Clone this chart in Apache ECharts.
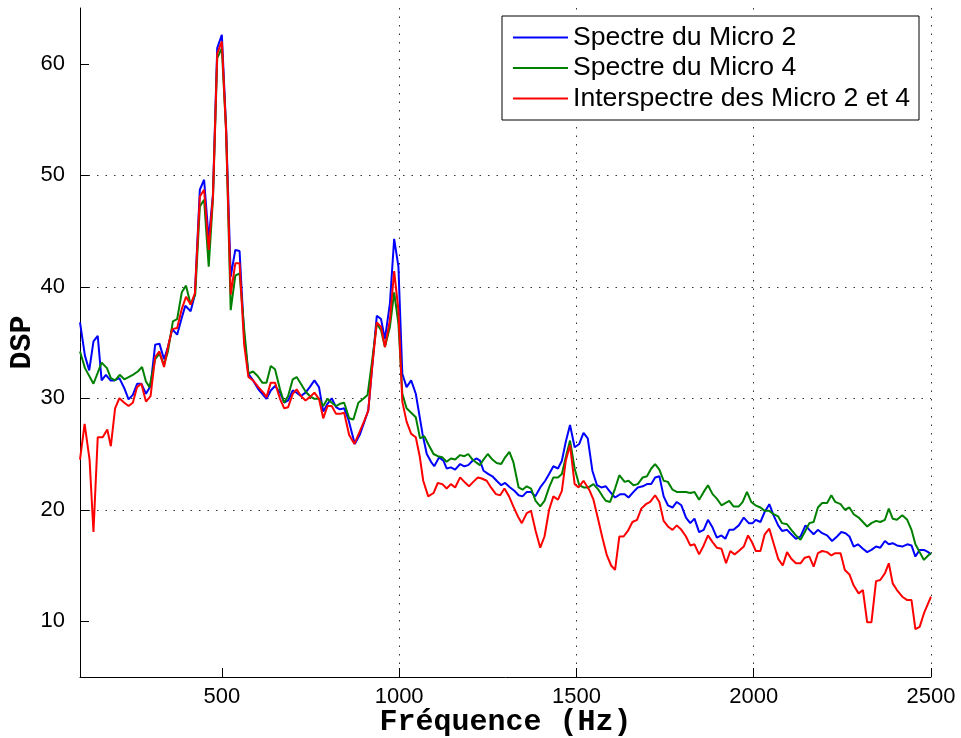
<!DOCTYPE html>
<html>
<head>
<meta charset="utf-8">
<script src="https://cdn.jsdelivr.net/npm/echarts@6/dist/echarts.min.js"></script>
<style>
  html, body { margin: 0; padding: 0; background: #ffffff; }
  #chart { width: 961px; height: 738px; }
</style>
</head>
<body>
<div id="chart"></div>
<script>
// Power spectral density (dB) of microphones 2 and 4 and their cross-spectrum
const seriesNames = ['Spectre du Micro 2', 'Spectre du Micro 4', 'Interspectre des Micro 2 et 4'];

const micro2Freq = [100,114,126,138,150,161,173,186,197,211,225,237,249,261,273,286,299,312,324,337,348,360,374,386,397,412,424,438,450,463,475,487,500,512,525,538,550,563,575,588,603,614,626,638,650,664,676,687,700,711,723,736,748,761,774,786,798,810,822,833,845,857,875,890,902,913,924,937,949,960,974,986,998,1009,1021,1034,1047,1066,1078,1090,1099,1113,1125,1134,1146,1158,1172,1184,1195,1207,1219,1228,1238,1252,1263,1275,1288,1299,1313,1325,1337,1348,1360,1372,1384,1398,1412,1423,1435,1448,1459,1470,1482,1495,1508,1520,1532,1545,1558,1570,1583,1595,1609,1624,1636,1647,1661,1673,1687,1699,1711,1722,1734,1746,1758,1771,1783,1796,1809,1821,1833,1846,1859,1871,1884,1896,1909,1920,1931,1943,1958,1972,1986,1997,2006,2019,2031,2044,2056,2069,2080,2094,2106,2119,2132,2146,2157,2169,2181,2193,2207,2221,2235,2247,2259,2270,2282,2294,2308,2320,2332,2345,2357,2370,2381,2392,2404,2419,2433,2445,2456,2468,2480,2492,2500];
const micro2Dsp = [36.8,33.8,32.5,35.1,35.6,31.6,32.1,31.6,31.6,31.8,30.9,29.9,30.3,31.3,31.3,30.4,31.1,34.8,34.9,33.5,34.6,36.2,35.7,37.1,38.3,37.8,39.3,48.7,49.6,44.2,48.3,61.4,62.6,54.3,40.9,43.3,43.2,35.5,32.2,31.6,30.8,30.4,29.95,30.7,31.1,30.5,29.6,29.8,30.7,30.5,30.2,30.5,31.0,31.6,31.0,28.8,29.5,30.0,29.2,29.0,29.1,28.1,25.9,26.8,27.9,28.9,32.8,37.4,37.1,35.3,38.5,44.3,41.8,32.2,31.0,31.6,30.4,26.8,25.0,24.3,23.9,24.7,24.4,23.7,23.8,23.6,24.1,23.9,24.0,24.4,24.6,24.4,23.5,23.2,23.0,22.6,22.2,22.4,22.0,21.7,21.3,21.2,21.6,21.6,21.2,22.0,22.6,23.2,23.9,23.7,24.4,26.1,27.6,25.6,25.9,26.9,26.4,23.5,22.2,22.0,22.1,21.6,21.1,21.4,21.4,21.1,21.6,22.0,22.1,22.3,22.3,22.9,23.0,21.2,20.4,20.2,20.7,20.4,19.3,18.8,19.2,18.0,18.2,19.1,18.4,17.5,17.7,17.4,18.2,18.2,18.6,19.3,18.8,18.8,19.1,18.9,19.8,20.5,19.5,18.6,18.1,18.2,17.8,17.4,17.6,18.6,18.2,17.8,18.2,17.9,17.7,17.2,17.6,18.0,17.9,17.6,16.7,16.9,16.5,16.2,16.4,16.7,16.6,17.2,16.9,17.0,16.8,16.7,16.9,16.8,15.8,16.4,16.4,16.2,16.0];

const micro4Freq = [100,114,138,161,176,187,199,212,225,249,263,275,286,296,312,324,337,348,362,374,387,399,412,425,438,450,463,475,487,500,512,525,538,550,563,575,588,601,614,626,638,650,664,676,687,700,711,723,736,748,761,774,786,798,810,822,833,845,859,871,885,899,911,924,937,949,960,974,986,998,1009,1021,1034,1047,1059,1071,1082,1097,1109,1122,1134,1146,1158,1172,1184,1195,1207,1219,1228,1238,1250,1263,1275,1288,1299,1311,1322,1337,1348,1360,1372,1385,1398,1410,1423,1435,1448,1459,1470,1482,1495,1508,1520,1534,1548,1562,1576,1583,1595,1609,1621,1636,1647,1661,1673,1687,1699,1711,1722,1734,1746,1758,1771,1783,1798,1809,1821,1833,1846,1859,1871,1884,1896,1909,1920,1931,1943,1958,1969,1981,1993,2005,2019,2031,2044,2056,2069,2080,2094,2106,2119,2132,2144,2157,2169,2181,2193,2207,2219,2230,2245,2257,2270,2282,2296,2308,2320,2332,2345,2357,2370,2381,2392,2404,2419,2433,2445,2456,2468,2480,2492,2500];
const micro4Dsp = [34.2,32.7,31.3,33.2,32.7,31.8,31.6,32.1,31.7,32.1,32.4,32.8,31.5,31.0,33.5,34.0,33.0,34.2,36.9,37.1,39.5,40.1,38.4,39.3,47.2,47.8,41.8,47.9,60.5,61.4,54.0,37.9,41.0,41.2,36.2,32.2,32.4,32.0,31.4,31.4,32.9,32.6,30.8,29.6,30.2,31.7,31.9,31.3,30.6,30.2,29.95,29.95,29.3,29.95,29.6,29.3,29.5,29.6,28.2,28.1,29.6,29.95,30.3,33.4,36.7,36.1,34.6,36.4,39.5,36.7,30.4,29.1,28.7,28.3,26.4,26.6,25.9,25.0,24.8,24.7,24.3,24.6,24.5,24.9,24.8,25.0,24.5,24.2,24.0,24.5,25.0,24.5,24.2,24.1,24.7,25.2,24.3,22.0,21.8,22.1,21.9,20.8,20.3,20.8,22.0,22.9,22.9,23.2,24.7,26.2,23.7,22.2,22.0,22.0,22.3,21.8,21.1,20.8,20.7,21.9,23.1,22.5,22.6,22.2,22.3,22.9,23.0,23.7,24.1,23.6,22.6,22.5,21.8,21.6,21.6,21.6,21.5,21.6,20.9,21.6,22.2,21.4,21.0,20.4,20.6,20.8,20.3,20.3,20.7,21.6,20.7,20.4,20.2,19.9,19.9,19.6,19.4,18.8,18.7,18.2,17.7,17.3,18.0,18.8,18.9,20.2,20.6,20.6,21.3,20.7,20.5,20.0,20.2,19.6,19.3,18.9,18.5,18.8,19.0,18.9,19.1,20.1,19.2,19.1,19.5,19.1,18.2,16.9,16.2,15.5,15.9,16.1];

const crossFreq = [100,113,127,138,150,164,177,187,199,211,225,237,249,261,273,286,299,312,324,337,348,360,374,387,399,412,424,438,450,463,475,487,500,512,525,538,550,563,575,588,603,617,626,638,650,664,676,687,700,711,723,736,748,761,774,786,798,810,822,833,845,859,874,890,902,913,924,937,949,960,974,986,998,1009,1021,1034,1047,1058,1068,1082,1097,1109,1122,1134,1146,1158,1172,1184,1197,1209,1222,1233,1247,1259,1273,1285,1297,1310,1322,1335,1346,1360,1372,1385,1398,1410,1423,1435,1448,1459,1470,1482,1495,1506,1520,1536,1548,1560,1574,1586,1598,1609,1621,1633,1645,1658,1671,1683,1696,1708,1722,1734,1746,1758,1771,1783,1796,1809,1821,1833,1846,1859,1871,1884,1896,1909,1922,1934,1946,1958,1972,1984,1995,2006,2019,2031,2044,2056,2069,2082,2094,2106,2119,2132,2144,2157,2169,2181,2193,2207,2219,2230,2245,2257,2270,2282,2296,2308,2320,2332,2345,2357,2370,2381,2392,2404,2419,2433,2445,2456,2468,2480,2500];
const crossDsp = [24.5,27.7,24.5,18.0,26.5,26.5,27.2,25.7,29.1,30.0,29.6,29.3,29.6,31.0,31.3,29.7,30.2,33.7,34.2,32.8,34.6,36.2,36.3,38.0,39.1,38.4,39.4,48.1,48.7,43.3,48.1,60.9,62.0,54.0,39.3,42.1,42.1,34.8,31.9,31.6,31.0,30.5,30.1,31.4,31.4,29.95,29.1,29.2,30.4,30.8,30.2,29.8,30.1,30.5,29.95,28.2,29.3,29.3,28.6,28.6,28.7,26.7,25.9,27.1,28.0,28.9,32.8,36.8,36.4,34.6,37.0,41.4,37.9,29.7,27.9,26.8,26.5,24.8,22.6,21.2,21.5,22.4,22.3,21.9,22.3,22.0,22.9,22.5,22.1,22.5,22.9,22.8,22.6,22.0,21.4,21.3,21.9,21.2,20.3,19.4,18.8,19.7,19.9,18.1,16.6,17.6,20.0,21.2,20.9,21.7,24.4,25.8,22.3,22.0,22.6,21.8,20.9,19.3,17.4,15.9,15.0,14.6,17.6,17.6,18.1,18.9,19.1,20.1,20.5,20.7,21.3,20.7,19.0,18.5,18.2,18.6,18.2,17.6,16.8,16.9,16.0,16.8,17.7,17.1,16.6,16.5,15.2,16.3,16.0,16.3,16.7,17.7,17.1,16.3,16.3,17.8,18.3,17.0,15.6,15.0,16.2,15.6,15.2,15.2,15.7,15.8,14.9,16.1,16.3,16.2,15.9,16.1,16.1,14.6,14.2,13.2,12.5,12.8,9.9,9.9,13.6,13.7,14.3,15.2,13.4,12.8,12.2,11.9,11.9,9.3,9.5,10.7,12.2];

const xTicks = [500, 1000, 1500, 2000, 2500];
const yTicks = [10, 20, 30, 40, 50, 60];

const pairs = (f, v) => f.map((x, i) => [x, v[i]]);

const chart = echarts.init(document.getElementById('chart'), null, { renderer: 'canvas' });

const gridLine = { color: '#333333', width: 1, type: [1.5, 7] };
const tickFont = { fontFamily: 'Liberation Sans, Arial, sans-serif', fontSize: 22, color: '#000000' };
const titleFont = { fontFamily: 'Liberation Mono, Courier New, monospace', fontWeight: 'bold', fontSize: 30, color: '#000000' };

chart.setOption({
  animation: false,
  backgroundColor: '#ffffff',
  color: ['#0000ff', '#008000', '#ff0000'],
  grid: { left: 80, right: 30, top: 8, bottom: 61, containLabel: false, outerBoundsMode: 'none' },
  legend: {
    data: seriesNames,
    orient: 'vertical',
    left: 502,
    top: 16,
    icon: 'rect',
    itemWidth: 55,
    itemHeight: 2,
    itemGap: 3.5,
    padding: [8, 9, 8, 11],
    borderColor: '#000000',
    borderWidth: 1,
    backgroundColor: '#ffffff',
    textStyle: { fontFamily: 'Liberation Sans, Arial, sans-serif', fontSize: 26.6, lineHeight: 26, color: '#000000' }
  },
  xAxis: {
    type: 'value',
    min: 100,
    max: 2500,
    splitNumber: 5,
    name: 'Fréquence (Hz)',
    nameLocation: 'middle',
    nameGap: 30,
    nameMoveOverlap: false,
    nameTextStyle: titleFont,
    axisLine: { show: true, lineStyle: { color: '#000000', width: 1 } },
    axisTick: { show: true, inside: true, length: 9, customValues: xTicks, lineStyle: { color: '#000000' } },
    axisLabel: Object.assign({ margin: 9, customValues: xTicks, formatter: v => String(v) }, tickFont),
    splitLine: { show: true, showMinLine: false, showMaxLine: true, lineStyle: gridLine }
  },
  yAxis: {
    type: 'value',
    min: 5,
    max: 65,
    splitNumber: 6,
    name: 'DSP',
    nameLocation: 'middle',
    nameGap: 43,
    nameRotate: 90,
    nameMoveOverlap: false,
    nameTextStyle: titleFont,
    axisLine: { show: true, lineStyle: { color: '#000000', width: 1 } },
    axisTick: { show: true, inside: true, length: 9, customValues: yTicks, lineStyle: { color: '#000000' } },
    axisLabel: Object.assign({ margin: 15, customValues: yTicks, formatter: v => String(v) }, tickFont),
    splitLine: { show: true, showMinLine: false, showMaxLine: false, lineStyle: gridLine }
  },
  series: [
    { name: seriesNames[0], type: 'line', data: pairs(micro2Freq, micro2Dsp), showSymbol: false, symbol: 'none', lineStyle: { width: 2 }, z: 2 },
    { name: seriesNames[1], type: 'line', data: pairs(micro4Freq, micro4Dsp), showSymbol: false, symbol: 'none', lineStyle: { width: 2 }, z: 3 },
    { name: seriesNames[2], type: 'line', data: pairs(crossFreq, crossDsp), showSymbol: false, symbol: 'none', lineStyle: { width: 2 }, z: 4 }
  ]
});
</script>
</body>
</html>
